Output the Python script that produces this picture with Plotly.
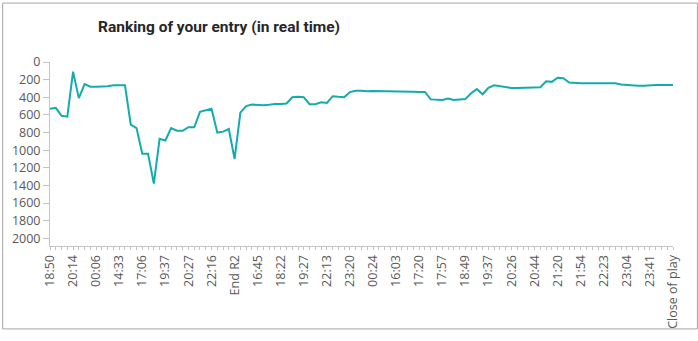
import plotly.graph_objects as go

# Ranking snapshots, one per update (lower is better)
ranks = [
    530, 520, 610, 620, 110, 410, 250, 280, 280, 280,
    275, 265, 265, 265, 710, 750, 1040, 1040, 1380, 870,
    890, 750, 780, 780, 740, 740, 565, 550, 530, 800,
    790, 760, 1100, 575, 500, 482, 490, 490, 485, 475,
    475, 470, 400, 395, 400, 478, 478, 457, 465, 388,
    395, 400, 341, 326, 326, 333, 330, 330, 330, 330,
    330, 337, 338, 338, 340, 340, 424, 430, 430, 415,
    430, 424, 421, 355, 308, 366, 294, 265, 276, 280,
    294, 294, 294, 287, 287, 287, 218, 225, 178, 185,
    232, 240, 240, 240, 240, 240, 240, 240, 240, 254,
    261, 265, 269, 269, 261, 261, 261, 261, 261,
]

# Time labels shown on every fourth update
tick_labels = [
    "18:50", "20:14", "00:06", "14:33", "17:06", "19:37", "20:27",
    "22:16", "End R2", "16:45", "18:22", "19:27", "22:13", "23:20",
    "00:24", "16:03", "17:20", "17:57", "18:49", "19:37", "20:26",
    "20:44", "21:20", "21:54", "22:23", "23:04", "23:41", "Close of play",
]
label_step = 4

y_ticks = list(range(0, 2001, 200))

W, H = 698, 341
L, R, T, B = 48, 25, 62, 87
pw, ph = W - L - R, H - T - B

x_idx = list(range(len(ranks)))
tick_pos = [i * label_step for i in range(len(tick_labels))]

fig = go.Figure()
fig.add_trace(go.Scatter(
    x=x_idx, y=ranks, mode="lines",
    line=dict(color="#16abab", width=2),
    hoverinfo="y",
))

axis_grey = "#c4c4c4"
tick_font = dict(family="Open Sans, Noto Sans, sans-serif", size=12.5, color="#595959")

fig.update_layout(
    width=W, height=H,
    margin=dict(l=L, r=R, t=T, b=B, pad=0),
    paper_bgcolor="white", plot_bgcolor="white",
    showlegend=False,
    title=dict(
        text="<b>Ranking of your entry (in real time)</b>",
        font=dict(family="Roboto, sans-serif", size=15.5, color="#262626"),
        x=219 / W, xref="container", xanchor="center",
        y=1 - 27 / H, yref="container", yanchor="middle",
    ),
    xaxis=dict(
        range=[0, len(ranks) - 1],
        tickmode="array", tickvals=tick_pos, ticktext=tick_labels,
        tickangle=-90, tickfont=tick_font,
        showgrid=False, zeroline=False,
        showline=True, linecolor=axis_grey, linewidth=1,
        ticks="outside", ticklen=3, tickcolor=axis_grey,
        minor=dict(tickmode="linear", tick0=0, dtick=1, ticks="outside",
                   ticklen=3, tickcolor=axis_grey, showgrid=False),
    ),
    yaxis=dict(
        range=[2087, 0],
        tickmode="array", tickvals=y_ticks,
        tickfont=tick_font,
        showgrid=False, zeroline=False,
        showline=True, linecolor=axis_grey, linewidth=1,
        ticks="outside", ticklen=6, tickcolor=axis_grey,
    ),
)

# Thin frame around the whole chart
fig.add_shape(
    type="rect", xref="paper", yref="paper",
    x0=(-L + 0.5) / pw, x1=1 + (R - 0.5) / pw,
    y0=(-B + 0.5) / ph, y1=1 + (T - 0.5) / ph,
    line=dict(color="#a6a6a6", width=1), fillcolor="rgba(0,0,0,0)",
    layer="above",
)

fig.write_html("out.html")
